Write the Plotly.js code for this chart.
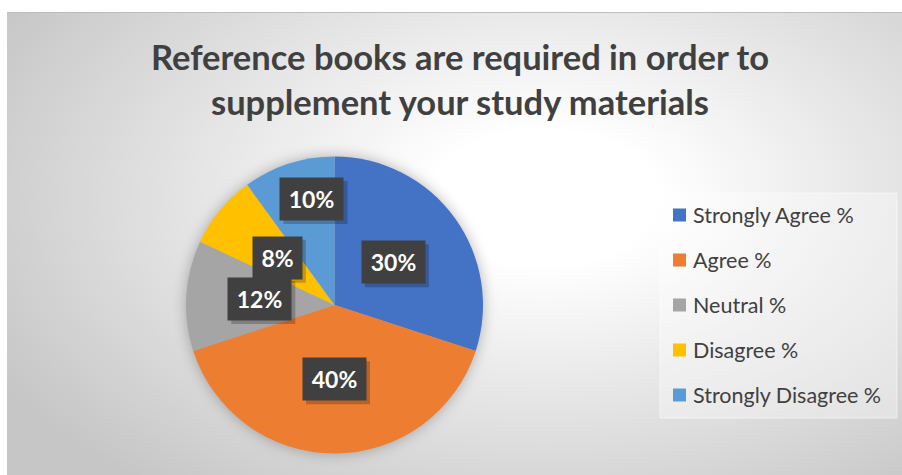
<!DOCTYPE html>
<html>
<head>
<meta charset="utf-8">
<script src="https://cdn.plot.ly/plotly-3.0.1.min.js"></script>
<style>
  html, body { margin: 0; padding: 0; background: #ffffff; width: 902px; height: 475px; overflow: hidden; }
  #wrap { position: absolute; left: 7px; top: 12px; width: 895px; height: 463px;
          background: radial-gradient(ellipse 70% 80% at 60% 40%, #ffffff 0%, #ffffff 18%, #c6c6c6 100%);
          border-top: 1px solid #bdbdbd; box-sizing: border-box; }
  #chart { position: absolute; left: 0; top: -1px; width: 895px; height: 463px; }
  #chart .pielayer { filter: drop-shadow(0px 0px 7px rgba(0,0,0,0.28)); }
</style>
</head>
<body>
<div id="wrap"><div id="chart"></div></div>
<script>
// ---- data ----
const categories = ['Strongly Agree %', 'Agree %', 'Neutral %', 'Disagree %', 'Strongly Disagree %'];
const values = [30, 40, 12, 8, 10];
const valueLabels = ['30%', '40%', '12%', '8%', '10%'];
const sliceColors = ['#4472C4', '#ED7D31', '#A5A5A5', '#FFC000', '#5B9BD5'];
const titleText = 'Reference books are required in order to<br>supplement your study materials';

// ---- layout geometry (px within the chart div) ----
const W = 895, H = 463;
const cx = 327.5, cy = 293, R = 148.5;
// label placement (style): radial fraction and angle tweak per slice
const labelRadius = [0.49, 0.5, 0.505, 0.5, 0.73];
const labelAngleTweak = [0, 0, 1, 0, 6];

const total = values.reduce((a, b) => a + b, 0);
const annotations = [];
const shapes = [];
let cum = 0;
values.forEach((v, i) => {
  const mid = (cum + v / 2) / total * 360 + labelAngleTweak[i];
  cum += v;
  const a = mid * Math.PI / 180;
  const px = cx + labelRadius[i] * R * Math.sin(a);
  const py = cy - labelRadius[i] * R * Math.cos(a);
  const txt = valueLabels[i];
  const w = 14 * txt.length + 7;
  const bw = w + 14, bh = 42;
  // shadow box (shape, no text)
  shapes.push({
    type: 'rect', xref: 'paper', yref: 'paper', layer: 'above',
    x0: (px - bw / 2 + 3) / W, x1: (px + bw / 2 + 4) / W,
    y0: 1 - (py + bh / 2 + 4) / H, y1: 1 - (py - bh / 2 + 3) / H,
    fillcolor: 'rgba(0,0,0,0.22)', line: {width: 0}
  });
  annotations.push({
    xref: 'paper', yref: 'paper', x: px / W, y: 1 - py / H, xanchor: 'center', yanchor: 'middle',
    text: '<b>' + txt + '</b>', showarrow: false, width: w, height: 28, borderpad: 7,
    bgcolor: '#404040', font: {family: 'Lato', size: 23, color: '#ffffff'}
  });
});

// manual legend
const legX0 = 653, legY0 = 181, legX1 = 890, legY1 = 406;
const legItemY0 = 203, legStep = 45, swX = 666, swSize = 13, legTextX = 684;
shapes.push({
  type: 'rect', xref: 'paper', yref: 'paper',
  x0: legX0 / W, x1: legX1 / W, y0: 1 - legY1 / H, y1: 1 - legY0 / H,
  fillcolor: 'rgba(255,255,255,0.35)', line: {color: 'rgba(255,255,255,0.55)', width: 1}, layer: 'below'
});
categories.forEach((c, i) => {
  const yy = legItemY0 + i * legStep;
  shapes.push({
    type: 'rect', xref: 'paper', yref: 'paper',
    x0: swX / W, x1: (swX + swSize) / W, y0: 1 - (yy + swSize / 2) / H, y1: 1 - (yy - swSize / 2) / H,
    fillcolor: sliceColors[i], line: {width: 0}
  });
  annotations.push({
    xref: 'paper', yref: 'paper', x: legTextX / W, y: 1 - yy / H, xanchor: 'left', yanchor: 'middle',
    text: c, showarrow: false, font: {family: 'Lato', size: 21.5, color: '#404040'}
  });
});

const data = [{
  type: 'pie',
  labels: categories,
  values: values,
  sort: false,
  direction: 'clockwise',
  rotation: 0,
  textinfo: 'none',
  hoverinfo: 'label+percent',
  marker: {colors: sliceColors, line: {width: 0}},
  domain: {x: [(cx - R) / W, (cx + R) / W], y: [1 - (cy + R) / H, 1 - (cy - R) / H]},
  showlegend: false
}];

const layout = {
  width: W, height: H,
  margin: {l: 0, r: 0, t: 0, b: 0},
  paper_bgcolor: 'rgba(0,0,0,0)',
  plot_bgcolor: 'rgba(0,0,0,0)',
  showlegend: false,
  title: {
    text: '<b>' + titleText + '</b>',
    font: {family: 'Lato', size: 34.5, color: '#404040'},
    x: 453 / W, xanchor: 'center', xref: 'container',
    y: 1 - 58 / H, yanchor: 'middle', yref: 'container'
  },
  annotations: annotations,
  shapes: shapes
};

Plotly.newPlot('chart', data, layout, {displayModeBar: false, staticPlot: true});
</script>
</body>
</html>
